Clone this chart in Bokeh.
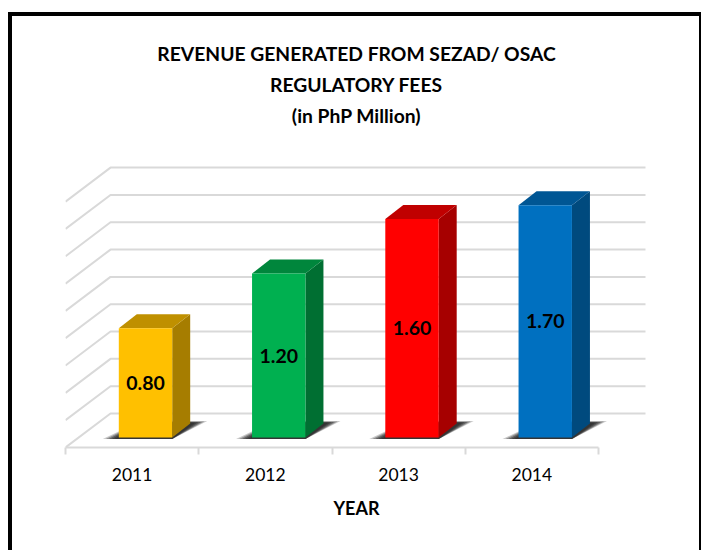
from bokeh.plotting import figure
from bokeh.embed import file_html
from bokeh.resources import INLINE
from bokeh.core.properties import value
from bokeh.models import Range1d, FixedTicker, ColumnDataSource, Title

years = ["2011", "2012", "2013", "2014"]
revenue = [0.80, 1.20, 1.60, 1.70]
front_colors = ["#FFC000", "#00B050", "#FF0000", "#0070C0"]
side_colors = ["#A67D00", "#006F32", "#A60000", "#004A7E"]
top_colors = ["#BF9000", "#00863C", "#C00000", "#005694"]
grid_values = [0.0, 0.2, 0.4, 0.6, 0.8, 1.0, 1.2, 1.4, 1.6, 1.8]
title_lines = ["REVENUE GENERATED FROM SEZAD/ OSAC", "REGULATORY FEES", "(in PhP Million)"]
axis_title = "YEAR"

FONT = "Lato"
OX, OY = 12, 16           # where the canvas starts on the page (inside the picture frame)
W, H = 693, 538
PX_X = 133.25   # px per category
PX_Y = 136.6    # px per value unit
FL, FR, FT, FB = 65 - OX, 647 - OX, 129 - OY, 447 - OY   # frame in canvas px
x_lo = -0.5
x_hi = x_lo + (FR - FL) / PX_X
y_lo = -10 / PX_Y
y_hi = y_lo + (FB - FT) / PX_Y


def dx(px):
    return px / PX_X


def dy(px):
    return px / PX_Y


p = figure(width=W, height=H, output_backend="svg", toolbar_location=None,
           x_range=Range1d(x_lo, x_hi), y_range=Range1d(y_lo, y_hi),
           y_axis_location=None, min_border_left=FL, min_border_right=W - FR,
           min_border_top=FT, min_border_bottom=H - FB,
           background_fill_color="white", border_fill_color="white",
           styles={"border-left": "4px solid black", "border-top": "4px solid black",
                   "border-right": "2px solid black", "margin-top": "12px", "margin-left": "8px",
                   "overflow": "hidden"})
p.outline_line_color = None
p.grid.visible = False

# title
for line in reversed(title_lines):
    t = Title(text=line, text_font=FONT, text_font_size="19.3px", text_font_style="bold",
              text_color="black", align="center", standoff=6)
    p.add_layout(t, "above")

# walls
left_x = x_lo
back_x0 = x_lo + dx(45)
right_x = x_hi - dx(2)
wall_dy = dy(34)
front_floor = y_lo
gx = [[left_x, back_x0, right_x] for _ in grid_values]
gy = [[front_floor + v, front_floor + v + wall_dy, front_floor + v + wall_dy] for v in grid_values]
p.multi_line(gx, gy, line_color="#D9D9D9", line_width=2)

# axis
ax = p.xaxis[0]
centers = list(range(len(years)))
bounds = [c - 0.5 for c in centers] + [centers[-1] + 0.5]
ax.ticker = FixedTicker(ticks=centers, minor_ticks=bounds)
ax.major_label_overrides = {c: y for c, y in zip(centers, years)}
ax.bounds = (bounds[0], bounds[-1])
ax.axis_line_color = "#D9D9D9"
ax.axis_line_width = 2
ax.major_tick_line_color = None
ax.major_tick_out = 0
ax.major_tick_in = 0
ax.minor_tick_line_color = "#D9D9D9"
ax.minor_tick_line_width = 2
ax.minor_tick_out = 7
ax.minor_tick_in = 0
ax.major_label_text_font = FONT
ax.major_label_text_font_size = "17.5px"
ax.major_label_text_color = "black"
ax.major_label_standoff = 13
ax.axis_label = axis_title
ax.axis_label_text_font = FONT
ax.axis_label_text_font_size = "18px"
ax.axis_label_text_font_style = "bold"
ax.axis_label_text_color = "black"
ax.axis_label_standoff = 13

# bars
bar_w = dx(53.4)
depth_x, depth_y = dx(18), dy(14)
for i, v in enumerate(revenue):
    x0 = i - 0.5 + dx(53.3)
    x1 = x0 + bar_w
    # shadow layers
    for inset, alpha in ((0, 0.25), (3, 0.35), (6, 0.45), (9, 0.5), (12, 0.5)):
        p.patch([x0 - dx(16 - inset), x1, x1 + dx(35 - inset), x0 + dx(22)],
                [-dy(1.5), -dy(1.5), dy(16.5 - inset * 0.15), dy(16.5 - inset * 0.15)],
                fill_color="#262626", fill_alpha=alpha, line_color=None)
    # side
    p.patch([x1, x1 + depth_x, x1 + depth_x, x1], [0, depth_y, v + depth_y, v],
            fill_color=side_colors[i], line_color=None)
    # top
    p.patch([x0, x1, x1 + depth_x, x0 + depth_x], [v, v, v + depth_y, v + depth_y],
            fill_color=top_colors[i], line_color=None)
    # front
    p.quad(left=x0, right=x1, bottom=0, top=v, fill_color=front_colors[i], line_color=None)

lab = ColumnDataSource(dict(
    x=[i - 0.5 + dx(53.3) + bar_w / 2 for i in range(len(years))],
    y=[v / 2 for v in revenue],
    t=["%.2f" % v for v in revenue],
))
p.text("x", "y", "t", source=lab, text_align="center", text_baseline="middle",
       text_font=value(FONT), text_font_style="bold", text_font_size="19.5px", text_color="black")

open("out.html", "w").write(file_html(p, INLINE))
